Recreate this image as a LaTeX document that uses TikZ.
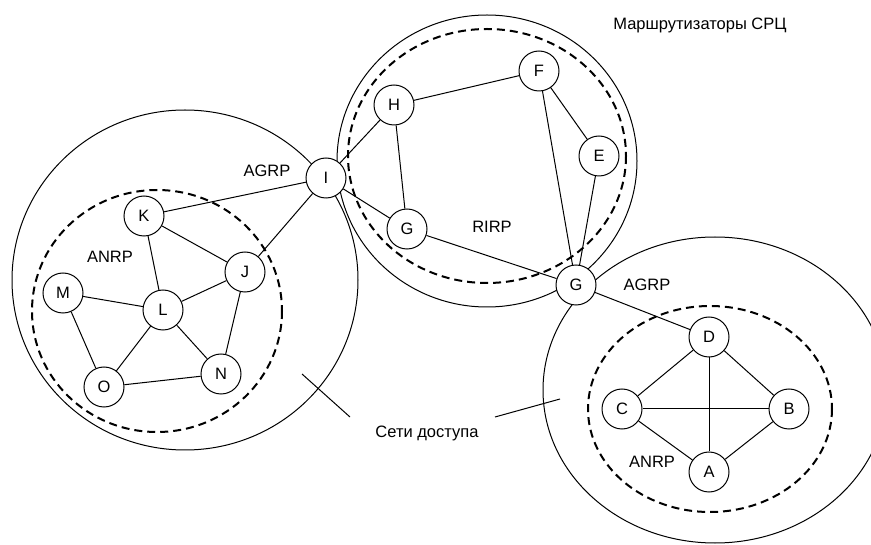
\documentclass[tikz,border=0pt]{standalone}
\usepackage{fontspec}
\setmainfont{Liberation Sans}
\begin{document}
\begin{tikzpicture}[x=1pt,y=-1pt,
  rt/.style={circle,draw,fill=white,minimum size=40pt,inner sep=0pt,line width=1pt,font=\fontsize{16.5}{18}\selectfont},
  lbl/.style={font=\fontsize{16.5}{18}\selectfont,inner sep=0pt},
  zone/.style={line width=1pt},
  dzone/.style={line width=2pt,dash pattern=on 8pt off 5pt},
  link/.style={line width=1pt}]
\useasboundingbox (0,0) rectangle (871,545);
% zones
\draw[zone] (185,280) ellipse [x radius=173,y radius=170];
\draw[zone] (487,161) ellipse [x radius=150,y radius=146];
\draw[zone] (715,390) ellipse [x radius=172,y radius=153];
\draw[dzone] (157,311) ellipse [x radius=125,y radius=121];
\draw[dzone] (487,156) ellipse [x radius=139,y radius=127];
\draw[dzone] (710,409) ellipse [x radius=122,y radius=103];
% routers
\node[rt] (I) at (326,178) {I};
\node[rt] (K) at (144,216) {K};
\node[rt] (J) at (245,272) {J};
\node[rt] (M) at (63,293) {M};
\node[rt] (L) at (163,310) {L};
\node[rt] (N) at (221,374) {N};
\node[rt] (O) at (104,387) {O};
\node[rt] (H) at (394,105) {H};
\node[rt] (F) at (539,71) {F};
\node[rt] (E) at (599,156) {E};
\node[rt] (G1) at (407,229) {G};
\node[rt] (G2) at (576,285) {G};
\node[rt] (D) at (709,337) {D};
\node[rt] (C) at (622,409) {C};
\node[rt] (B) at (789,409) {B};
\node[rt] (A) at (709,472) {A};
% links
\draw[link] (I) -- (K);
\draw[link] (I) -- (J);
\draw[link] (K) -- (J);
\draw[link] (K) -- (L);
\draw[link] (M) -- (L);
\draw[link] (L) -- (J);
\draw[link] (M) -- (O);
\draw[link] (O) -- (L);
\draw[link] (L) -- (N);
\draw[link] (J) -- (N);
\draw[link] (O) -- (N);
\draw[link] (I) -- (H);
\draw[link] (I) -- (G1);
\draw[link] (H) -- (G1);
\draw[link] (H) -- (F);
\draw[link] (F) -- (E);
\draw[link] (F) -- (G2);
\draw[link] (E) -- (G2);
\draw[link] (G1) -- (G2);
\draw[link] (G2) -- (D);
\draw[link] (D) -- (C);
\draw[link] (D) -- (B);
\draw[link] (D) -- (A);
\draw[link] (C) -- (B);
\draw[link] (C) -- (A);
\draw[link] (B) -- (A);
% labels
\node[lbl] (agrp1) at (267,171) {AGRP};
\node[lbl] (anrp1) at (110,257) {ANRP};
\node[lbl] (rirp) at (492,227) {RIRP};
\node[lbl] (agrp2) at (647,285) {AGRP};
\node[lbl] (anrp2) at (652,462) {ANRP};
\node[lbl] (nets) at (427,433) {Сети доступа};
\node[lbl] (srtr) at (700,25) {Маршрутизаторы СРЦ};
% pointers
\coordinate (p1a) at (302,374);
\coordinate (p1b) at (350,417);
\coordinate (p2a) at (495,417);
\coordinate (p2b) at (560,399);
\draw[link] (p1a) -- (p1b);
\draw[link] (p2a) -- (p2b);
\end{tikzpicture}
\end{document}
